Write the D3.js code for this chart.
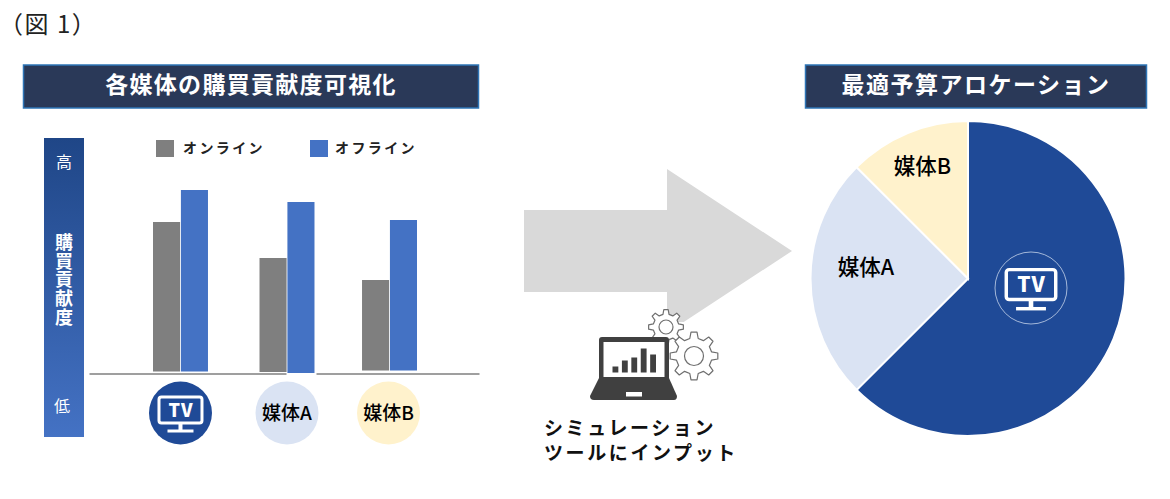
<!DOCTYPE html>
<html>
<head>
<meta charset="utf-8">
<script src="https://cdn.jsdelivr.net/npm/d3@7"></script>
<style>
body { margin: 0; background: #fff; }
text { font-family: "Noto Sans CJK JP", sans-serif; }
</style>
</head>
<body>
<div id="chart"></div>
<script>
// Data
const categories = ['TV', '媒体A', '媒体B'];
const seriesNames = ['オンライン', 'オフライン'];
const onlineValues = [75, 57, 46];
const offlineValues = [91, 85, 76];
const pieShares = [62.5, 25, 12.5];
const laptopBars = [1, 2, 2.5, 4, 3];

const colors = {
    online: '#7f7f7f',
    offline: '#4472c4',
    tv: '#1f4a97',
    a: '#dae3f3',
    b: '#fff2cc',
    title: '#2a3958',
    titleBorder: '#2e75b6',
    arrow: '#d9d9d9',
    icon: '#404040'
};

const svg = d3.select('#chart')
    .append('svg')
    .attr('width', 1170)
    .attr('height', 499)
    .style('display', 'block');

const defs = svg.append('defs');
const grad = defs.append('linearGradient')
    .attr('id', 'axisGrad')
    .attr('x1', 0).attr('x2', 0).attr('y1', 0).attr('y2', 1);
grad.append('stop').attr('offset', '0%').attr('stop-color', '#1f4687');
grad.append('stop').attr('offset', '100%').attr('stop-color', '#4472c4');

// Figure label
svg.append('text')
    .attr('x', -1).attr('y', 33)
    .attr('font-size', 24)
    .attr('letter-spacing', 1.5)
    .attr('fill', '#222')
    .text('（図 1）');

// Title boxes
function titleBox(x, w, label, spacing) {
    svg.append('rect')
        .attr('x', x).attr('y', 65)
        .attr('width', w).attr('height', 43)
        .attr('fill', colors.title)
        .attr('stroke', colors.titleBorder)
        .attr('stroke-width', 1.5);
    svg.append('text')
        .attr('x', x + w / 2).attr('y', 93)
        .attr('text-anchor', 'middle')
        .attr('font-size', 23)
        .attr('font-weight', 700)
        .attr('letter-spacing', spacing)
        .attr('fill', '#fff')
        .text(label);
}
titleBox(23.5, 455, '各媒体の購買貢献度可視化', 1.3);
titleBox(805.5, 341, '最適予算アロケーション', 1.5);

// Vertical 高 / 低 band
svg.append('rect')
    .attr('x', 44).attr('y', 138)
    .attr('width', 40).attr('height', 299)
    .attr('fill', 'url(#axisGrad)');
svg.append('text')
    .attr('x', 64).attr('y', 168)
    .attr('text-anchor', 'middle')
    .attr('font-size', 16)
    .attr('fill', '#fff')
    .text('高');
svg.append('text')
    .attr('x', 62).attr('y', 412)
    .attr('text-anchor', 'middle')
    .attr('font-size', 16)
    .attr('fill', '#fff')
    .text('低');
svg.append('text')
    .attr('x', 64).attr('y', 233)
    .style('writing-mode', 'vertical-rl')
    .attr('font-size', 18)
    .attr('font-weight', 700)
    .attr('letter-spacing', 0.7)
    .attr('fill', '#fff')
    .text('購買貢献度');

// Bars
const xScale = d3.scaleBand()
    .domain(categories)
    .range([153, 417])
    .paddingInner(0.474);
const xSub = d3.scaleBand()
    .domain(seriesNames)
    .range([0, xScale.bandwidth()])
    .paddingInner(0.03);
const yScale = d3.scaleLinear()
    .domain([0, 100])
    .range([372, 172]);

// The pasted-in groups in the picture sit slightly off a regular grid
const groupNudge = [0, 2, 0];
const badgeNudge = [0, 2, -1];
const baseNudge = [[-0.5, 0, -1.5], [-0.5, 1, -1.5]];

// Baseline is broken under the second offline bar
[[89, 286], [316, 479]].forEach(r => {
    svg.append('g')
        .attr('transform', 'translate(0,373.5)')
        .call(d3.axisBottom(d3.scaleLinear().range(r)).ticks(0).tickSize(0))
        .select('.domain')
        .attr('stroke', '#7f7f7f')
        .attr('stroke-width', 1.3);
});

const seriesList = [
    {name: seriesNames[0], values: onlineValues, color: colors.online},
    {name: seriesNames[1], values: offlineValues, color: colors.offline}
];
seriesList.forEach((s, si) => {
    svg.selectAll(null)
        .data(s.values)
        .enter()
        .append('rect')
        .attr('x', (d, i) => xScale(categories[i]) + xSub(s.name) + groupNudge[i])
        .attr('y', d => yScale(d))
        .attr('width', xSub.bandwidth())
        .attr('height', (d, i) => yScale(0) - yScale(d) + baseNudge[si][i])
        .attr('fill', s.color);
});

// Legend
const legendX = [156, 310];
const legendTextX = [183, 335];
seriesList.forEach((s, i) => {
    svg.append('rect')
        .attr('x', legendX[i]).attr('y', 140)
        .attr('width', 18).attr('height', 17)
        .attr('fill', s.color);
    svg.append('text')
        .attr('x', legendTextX[i]).attr('y', 153)
        .attr('font-size', 14)
        .attr('font-weight', 700)
        .attr('letter-spacing', 2.4)
        .attr('fill', '#222')
        .text(s.name);
});

// TV icon
function tvIcon(parent, cx, cy, k) {
    const g = parent.append('g')
        .attr('transform', `translate(${cx},${cy}) scale(${k})`);
    g.append('rect')
        .attr('x', -21.5).attr('y', -16)
        .attr('width', 43).attr('height', 26)
        .attr('rx', 2.5)
        .attr('fill', 'none')
        .attr('stroke', '#fff')
        .attr('stroke-width', 3);
    g.append('text')
        .attr('x', 0.5).attr('y', 3.5)
        .attr('text-anchor', 'middle')
        .attr('font-size', 18)
        .attr('font-weight', 900)
        .attr('letter-spacing', 1)
        .attr('fill', '#fff')
        .text('TV');
    g.append('rect').attr('x', -2).attr('y', 11).attr('width', 4).attr('height', 7).attr('fill', '#fff');
    g.append('rect').attr('x', -13).attr('y', 16.5).attr('width', 26).attr('height', 3).attr('fill', '#fff');
}

// Category badges
const badgeColors = [colors.tv, colors.a, colors.b];
const badgeX = i => xScale(categories[i]) + xScale.bandwidth() / 2 + badgeNudge[i];
svg.selectAll('.badge')
    .data(categories)
    .enter()
    .append('circle')
    .attr('class', 'badge')
    .attr('cx', (d, i) => badgeX(i))
    .attr('cy', 413)
    .attr('r', 31.5)
    .attr('fill', (d, i) => badgeColors[i]);
tvIcon(svg, badgeX(0), 413, 1);
categories.slice(1).forEach((c, i) => {
    svg.append('text')
        .attr('x', badgeX(i + 1))
        .attr('y', 420)
        .attr('text-anchor', 'middle')
        .attr('font-size', 19)
        .attr('font-weight', 500)
        .attr('fill', '#000')
        .text(c);
});

// Arrow
const arrow = d3.path();
arrow.moveTo(524, 210);
arrow.lineTo(667, 210);
arrow.lineTo(667, 169);
arrow.lineTo(792, 251);
arrow.lineTo(667, 333);
arrow.lineTo(667, 292);
arrow.lineTo(524, 292);
arrow.closePath();
svg.append('path').attr('d', arrow.toString()).attr('fill', colors.arrow);

// Laptop icon, sits on a white patch that hides the arrow tip
svg.append('rect')
    .attr('x', 590).attr('y', 322)
    .attr('width', 128).attr('height', 84)
    .attr('fill', '#fff');

function gear(cx, cy, outer, inner, hole, teeth) {
    const pts = [];
    const step = Math.PI * 2 / teeth;
    for (let i = 0; i < teeth; i++) {
        const a = i * step;
        pts.push([a - step * 0.30, inner], [a - step * 0.16, outer], [a + step * 0.16, outer], [a + step * 0.30, inner]);
    }
    const line = d3.lineRadial().angle(d => d[0]).radius(d => d[1]).curve(d3.curveLinearClosed);
    const g = svg.append('g').attr('transform', `translate(${cx},${cy})`);
    g.append('path').attr('d', line(pts))
        .attr('fill', '#fff').attr('stroke', '#6f6f6f').attr('stroke-width', 1.2).attr('stroke-linejoin', 'round');
    g.append('circle').attr('r', hole)
        .attr('fill', '#fff').attr('stroke', '#6f6f6f').attr('stroke-width', 1.2);
}
gear(666, 327, 17.5, 13, 7, 8);
gear(694, 356, 24, 18, 9.5, 8);

svg.append('rect')
    .attr('x', 599).attr('y', 337)
    .attr('width', 70).attr('height', 44)
    .attr('rx', 3)
    .attr('fill', colors.icon);
svg.append('rect')
    .attr('x', 603.5).attr('y', 342)
    .attr('width', 61).attr('height', 35)
    .attr('fill', '#fff');
const base = d3.path();
base.moveTo(599, 378);
base.lineTo(669, 378);
base.lineTo(677, 396);
base.quadraticCurveTo(677, 400, 674, 400);
base.lineTo(594, 400);
base.quadraticCurveTo(590, 400, 590, 396);
base.closePath();
svg.append('path').attr('d', base.toString()).attr('fill', colors.icon);
svg.append('rect')
    .attr('x', 626).attr('y', 392)
    .attr('width', 16).attr('height', 4.5)
    .attr('fill', '#fff');

const lx = d3.scaleBand().domain(d3.range(laptopBars.length)).range([612.5, 656]).paddingInner(0.38);
const ly = d3.scaleLinear().domain([0, 4]).range([372.5, 348.5]);
svg.selectAll('.lbar')
    .data(laptopBars)
    .enter()
    .append('rect')
    .attr('class', 'lbar')
    .attr('x', (d, i) => lx(i))
    .attr('y', d => ly(d))
    .attr('width', lx.bandwidth())
    .attr('height', d => ly(0) - ly(d))
    .attr('fill', colors.icon);

['シミュレーション', 'ツールにインプット'].forEach((t, i) => {
    svg.append('text')
        .attr('x', 544).attr('y', 435 + i * 25)
        .attr('font-size', 19)
        .attr('font-weight', 700)
        .attr('letter-spacing', 2.6)
        .attr('fill', '#111')
        .text(t);
});

// Pie
const pieG = svg.append('g').attr('transform', 'translate(968,278.5)');
const pie = d3.pie().sort(null)(pieShares);
const arc = d3.arc().innerRadius(0).outerRadius(157.5);
pieG.selectAll('path')
    .data(pie)
    .enter()
    .append('path')
    .attr('d', arc)
    .attr('fill', (d, i) => badgeColors[i])
    .attr('stroke', '#fff')
    .attr('stroke-width', 2);

svg.append('circle')
    .attr('cx', 1031).attr('cy', 288)
    .attr('r', 36)
    .attr('fill', 'none')
    .attr('stroke', '#c5d3ea')
    .attr('stroke-width', 0.8);
tvIcon(svg, 1031, 288, 1.15);

svg.append('text')
    .attr('x', 866).attr('y', 275)
    .attr('text-anchor', 'middle')
    .attr('font-size', 21.5)
    .attr('font-weight', 500)
    .attr('fill', '#000')
    .text(categories[1]);
svg.append('text')
    .attr('x', 922.5).attr('y', 173.5)
    .attr('text-anchor', 'middle')
    .attr('font-size', 21.5)
    .attr('font-weight', 500)
    .attr('fill', '#000')
    .text(categories[2]);
</script>
</body>
</html>
